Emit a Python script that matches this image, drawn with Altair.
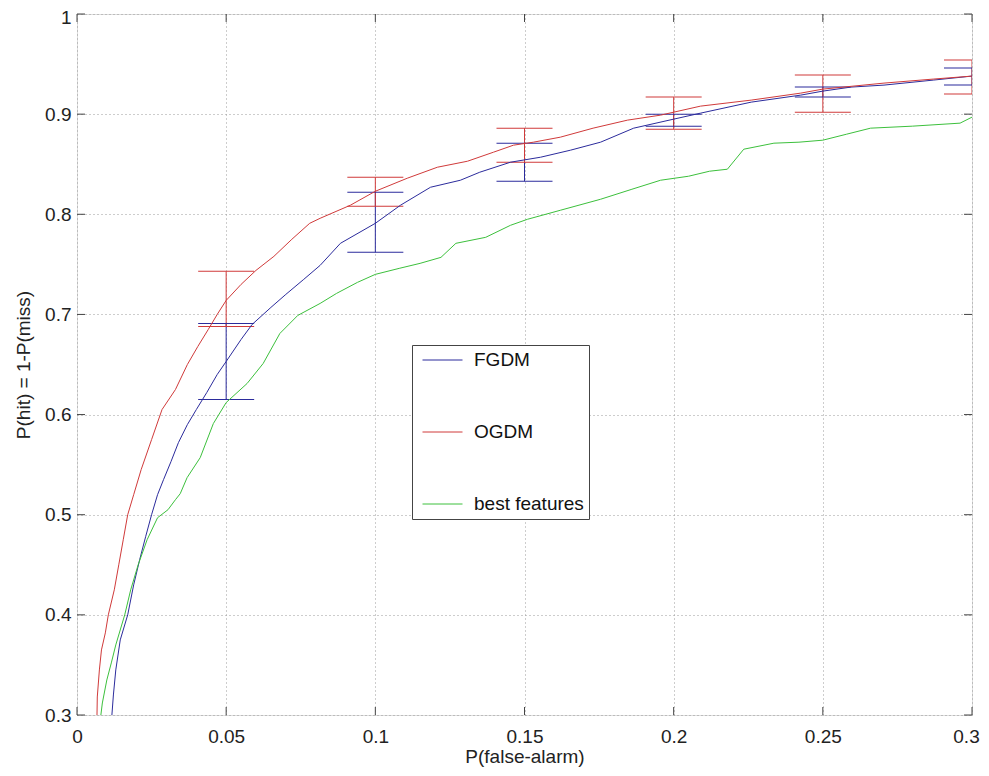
import altair as alt
import pandas as pd

# ---------------- data ----------------
series = ["FGDM", "OGDM", "best features"]
colors = ["#2b2b9c", "#d03a3a", "#3cc03c"]

fgdm_x = [0.0117, 0.0122, 0.0130, 0.0145, 0.0170, 0.0190, 0.0210, 0.0230, 0.0250, 0.0270,
          0.0290, 0.0315, 0.0340, 0.0370, 0.0400, 0.0435, 0.0470, 0.0500, 0.0550, 0.0587,
          0.0650, 0.0700, 0.0760, 0.0815, 0.0883, 0.1000, 0.1084, 0.1185, 0.1285, 0.1350,
          0.1453, 0.1554, 0.1654, 0.1755, 0.1866, 0.2000, 0.2090, 0.2260, 0.2426, 0.2500,
          0.2594, 0.2705, 0.2870, 0.3000]
fgdm_y = [0.300, 0.320, 0.345, 0.375, 0.400, 0.430, 0.455, 0.478, 0.500, 0.520,
          0.535, 0.553, 0.572, 0.590, 0.605, 0.622, 0.640, 0.653, 0.675, 0.690,
          0.707, 0.720, 0.735, 0.749, 0.771, 0.791, 0.809, 0.827, 0.834, 0.842,
          0.852, 0.857, 0.864, 0.872, 0.886, 0.895, 0.901, 0.912, 0.919, 0.923,
          0.927, 0.929, 0.934, 0.938]

ogdm_x = [0.0067, 0.0068, 0.0075, 0.0082, 0.0095, 0.0105, 0.0125, 0.0140, 0.0155, 0.0170,
          0.0190, 0.0215, 0.0250, 0.0285, 0.0330, 0.0370, 0.0405, 0.0440, 0.0470, 0.0500,
          0.0550, 0.0600, 0.0660, 0.0720, 0.0780, 0.0815, 0.0916, 0.1000, 0.1107, 0.1208,
          0.1309, 0.1396, 0.1463, 0.1530, 0.1620, 0.1730, 0.1845, 0.1956, 0.2090, 0.2260,
          0.2426, 0.2500, 0.2705, 0.2870, 0.3000]
ogdm_y = [0.300, 0.318, 0.345, 0.365, 0.382, 0.400, 0.425, 0.450, 0.475, 0.500,
          0.520, 0.545, 0.575, 0.605, 0.625, 0.650, 0.668, 0.685, 0.700, 0.714,
          0.730, 0.744, 0.758, 0.775, 0.791, 0.796, 0.809, 0.823, 0.836, 0.847,
          0.853, 0.862, 0.869, 0.872, 0.877, 0.886, 0.894, 0.899, 0.908, 0.914,
          0.921, 0.925, 0.931, 0.935, 0.938]

best_x = [0.0080, 0.0085, 0.0100, 0.0115, 0.0130, 0.0160, 0.0180, 0.0205, 0.0235, 0.0270,
          0.0305, 0.0330, 0.0346, 0.0369, 0.0413, 0.0457, 0.0500, 0.0570, 0.0624, 0.0680,
          0.0740, 0.0815, 0.0870, 0.0940, 0.1000, 0.1080, 0.1150, 0.1220, 0.1270, 0.1370,
          0.1453, 0.1510, 0.1620, 0.1755, 0.1860, 0.1956, 0.2050, 0.2120, 0.2180, 0.2235,
          0.2336, 0.2420, 0.2500, 0.2580, 0.2660, 0.2800, 0.2960, 0.3000]
best_y = [0.300, 0.312, 0.335, 0.352, 0.370, 0.400, 0.425, 0.450, 0.475, 0.497,
          0.505, 0.515, 0.521, 0.537, 0.557, 0.591, 0.612, 0.631, 0.651, 0.681,
          0.699, 0.711, 0.721, 0.732, 0.740, 0.746, 0.751, 0.757, 0.771, 0.777,
          0.789, 0.795, 0.804, 0.815, 0.825, 0.834, 0.838, 0.843, 0.845, 0.865,
          0.871, 0.872, 0.874, 0.880, 0.886, 0.888, 0.891, 0.897]

err_x = [0.05, 0.10, 0.15, 0.20, 0.25, 0.30]
fgdm_lo = [0.615, 0.762, 0.833, 0.888, 0.917, 0.929]
fgdm_hi = [0.691, 0.822, 0.871, 0.900, 0.927, 0.946]
ogdm_lo = [0.688, 0.808, 0.852, 0.885, 0.902, 0.920]
ogdm_hi = [0.743, 0.837, 0.886, 0.917, 0.939, 0.954]

x_ticks = [0, 0.05, 0.1, 0.15, 0.2, 0.25, 0.3]
y_ticks = [0.3, 0.4, 0.5, 0.6, 0.7, 0.8, 0.9, 1.0]

x_title = "P(false-alarm)"
y_title = "P(hit) = 1-P(miss)"

# ---------------- tables ----------------
rows = []
for name, xs, ys in [("FGDM", fgdm_x, fgdm_y), ("OGDM", ogdm_x, ogdm_y),
                     ("best features", best_x, best_y)]:
    for i, (a, b) in enumerate(zip(xs, ys)):
        rows.append({"series": name, "x": a, "y": b, "i": i})
lines_df = pd.DataFrame(rows)

erows = []
for name, lo, hi in [("FGDM", fgdm_lo, fgdm_hi), ("OGDM", ogdm_lo, ogdm_hi)]:
    for a, l, h in zip(err_x, lo, hi):
        erows.append({"series": name, "x": a, "lo": l, "hi": h})
err_df = pd.DataFrame(erows)

tx_df = pd.DataFrame({"x": x_ticks})
ty_df = pd.DataFrame({"y": y_ticks})

# ---------------- styling ----------------
FONT = "Liberation Sans"
W, H = 895, 701
FRAME = "#444444"
TXT = "#222222"

xscale = alt.Scale(domain=[0, 0.3], nice=False, zero=False)
yscale = alt.Scale(domain=[0.3, 1.0], nice=False, zero=False)

xaxis = alt.Axis(values=x_ticks, format="~g", grid=True, gridDash=[1, 3],
                 gridColor="#9a9a9a", gridWidth=1, domain=False, ticks=False, tickSize=0,
                 labelPadding=12, labelFontSize=19, labelFont=FONT, labelColor=TXT,
                 labelFlush=False, labelOverlap=False,
                 labelOffset={"condition": {"test": "datum.value >= 0.3", "value": -6}, "value": 0},
                 titleFontSize=19, titleFont=FONT, titleFontWeight="normal", titleColor=TXT,
                 titleY=32, titleBaseline="top")
yaxis = alt.Axis(values=y_ticks, format="~g", grid=True, gridDash=[1, 3],
                 gridColor="#9a9a9a", gridWidth=1, domain=False, ticks=False, tickSize=0,
                 labelPadding=6, labelFontSize=19, labelFont=FONT, labelColor=TXT,
                 labelFlush=False, labelOverlap=False,
                 labelOffset={"condition": {"test": "datum.value >= 1", "value": 3}, "value": 0},
                 titleFontSize=19, titleFont=FONT, titleFontWeight="normal", titleColor=TXT,
                 titleX=-48, titleBaseline="alphabetic")


def X(field):
    return alt.X(f"{field}:Q", scale=xscale, axis=xaxis, title=x_title)


def Y(field):
    return alt.Y(f"{field}:Q", scale=yscale, axis=yaxis, title=y_title)


legend = alt.Legend(title=None, orient="none", legendX=335, legendY=331,
                    symbolType="stroke", symbolSize=1600, symbolStrokeWidth=1,
                    symbolOffset=5, labelOffset=11, labelFontSize=19, labelFont=FONT,
                    labelColor="#111111", padding=5, rowPadding=52, clipHeight=20,
                    strokeColor=FRAME, fillColor="white",
                    labelExpr="datum.label + '\u2003'")
C = alt.Color("series:N", scale=alt.Scale(domain=series, range=colors), legend=legend)

lines = alt.Chart(lines_df).mark_line(strokeWidth=1, clip=True).encode(
    x=X("x"), y=Y("y"), color=C, order=alt.Order("i:Q"))

bars = alt.Chart(err_df).mark_rule(strokeWidth=1, clip=True).encode(
    x=X("x"), y=Y("lo"), y2=alt.Y2("hi"), color=C)
caps_lo = alt.Chart(err_df).mark_tick(orient="horizontal", size=56, thickness=1,
                                      opacity=1, clip=True).encode(
    x=X("x"), y=Y("lo"), color=C)
caps_hi = alt.Chart(err_df).mark_tick(orient="horizontal", size=56, thickness=1,
                                      opacity=1, clip=True).encode(
    x=X("x"), y=Y("hi"), color=C)

tick_b = alt.Chart(tx_df).mark_rule(color=FRAME, strokeWidth=1).encode(
    x=X("x"), y=alt.value(H), y2=alt.value(H - 8))
tick_t = alt.Chart(tx_df).mark_rule(color=FRAME, strokeWidth=1).encode(
    x=X("x"), y=alt.value(0), y2=alt.value(8))
tick_l = alt.Chart(ty_df).mark_rule(color=FRAME, strokeWidth=1).encode(
    y=Y("y"), x=alt.value(0), x2=alt.value(8))
tick_r = alt.Chart(ty_df).mark_rule(color=FRAME, strokeWidth=1).encode(
    y=Y("y"), x=alt.value(W - 8), x2=alt.value(W))

chart = alt.layer(
    tick_b, tick_t, tick_l, tick_r, bars, caps_lo, caps_hi, lines
).properties(
    width=W, height=H,
    autosize=alt.AutoSizeParams(type="none"),
    padding={"left": 69, "top": 6, "right": 9, "bottom": 53},
).configure_view(
    stroke=FRAME, strokeWidth=1
).configure(background="white")

chart.save("out.html", embed_options={"renderer": "svg", "actions": False})
